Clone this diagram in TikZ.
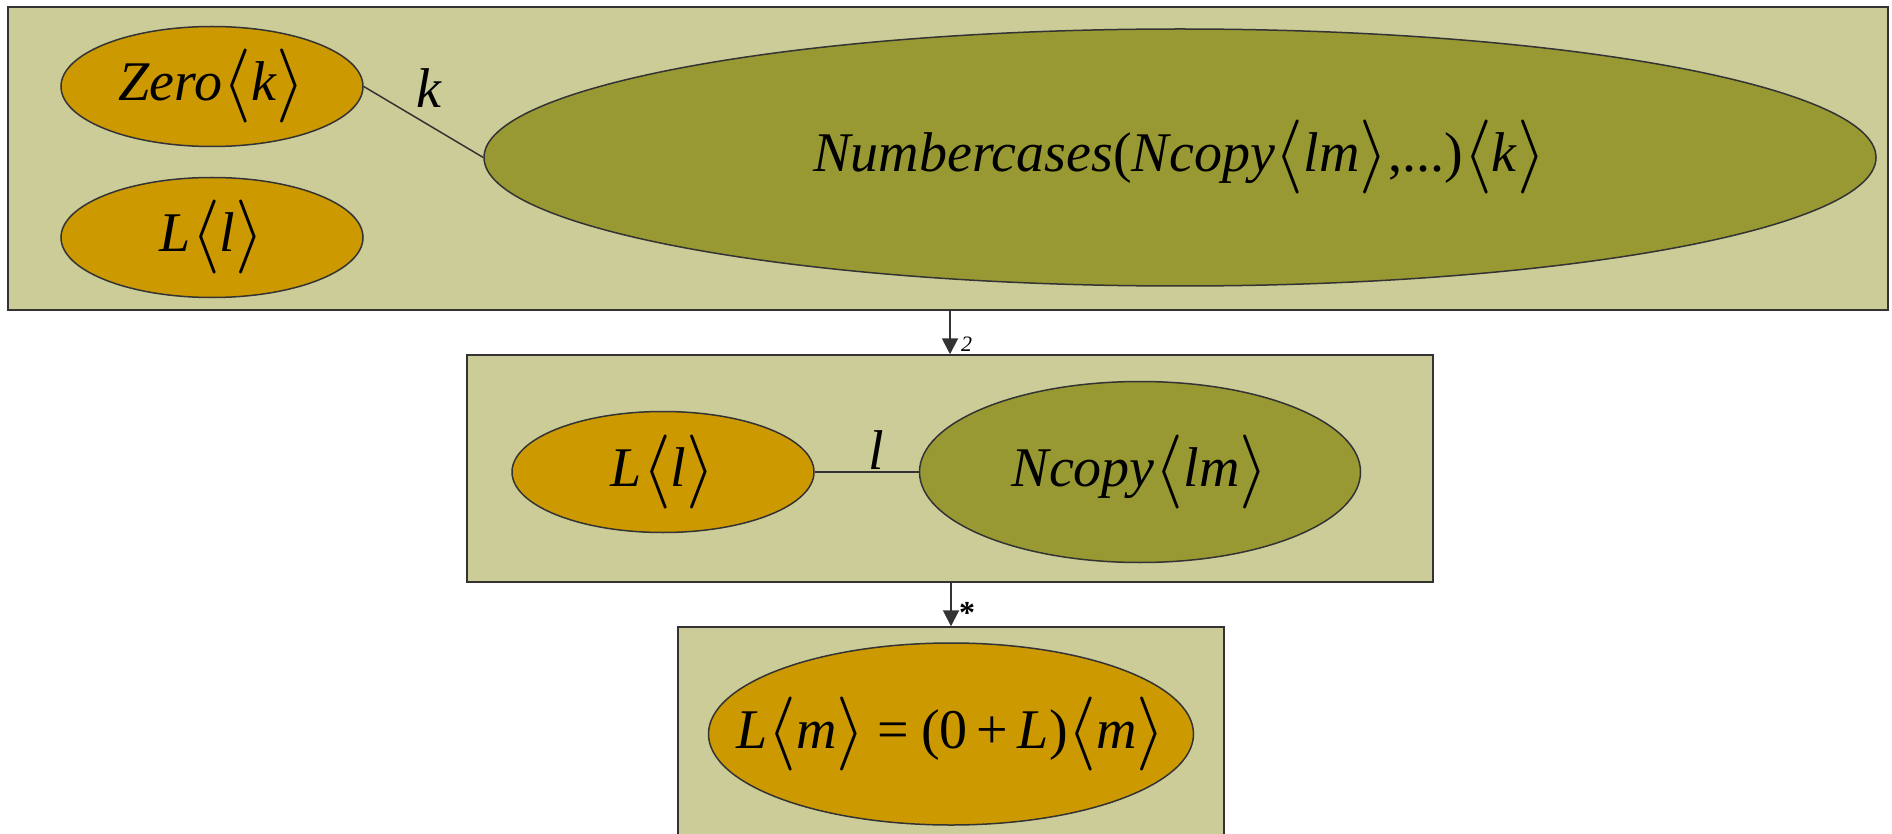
\RequirePackage{fix-cm}
\documentclass[tikz,border=0pt]{standalone}
\usepackage{fontspec}
\setmainfont{Liberation Serif}
\usetikzlibrary{arrows.meta,shapes.geometric}
\definecolor{boxfill}{RGB}{204,204,153}
\definecolor{orangefill}{RGB}{204,153,0}
\definecolor{olivefill}{RGB}{153,153,51}
\definecolor{edgecol}{RGB}{51,51,51}
\newcommand{\myla}{{\fontsize{74}{80}\selectfont\raisebox{-4pt}{$\langle$}}}
\newcommand{\myra}{{\fontsize{74}{80}\selectfont\raisebox{-4pt}{$\rangle$}}}
\tikzset{
  grp/.style={draw=edgecol, line width=1.5pt, fill=boxfill, rectangle, inner sep=0pt},
  ell/.style={draw=edgecol, line width=1.5pt, ellipse, inner sep=0pt},
  ellA/.style={ell, fill=orangefill},
  ellB/.style={ell, fill=olivefill},
  txt/.style={inner sep=0pt, font=\fontsize{56}{67}\selectfont},
  conn/.style={draw=edgecol, line width=1.5pt},
  arr/.style={draw=edgecol, line width=2pt, -{Triangle[width=16pt,length=16pt]}},
  elab/.style={inner sep=0pt, font=\fontsize{56}{67}\selectfont},
  slab/.style={inner sep=0pt, font=\fontsize{22}{26}\selectfont}
}
\begin{document}
\begin{tikzpicture}[x=1pt,y=-1pt]
\fill[white] (0,0) rectangle (1892,834);
\path[use as bounding box, clip] (0,0) rectangle (1892,834);
% boxes
\node[grp, minimum width=1880pt, minimum height=303pt] (b1) at (948,158.5) {};
\node[grp, minimum width=966pt, minimum height=227pt] (b2) at (950,468.5) {};
\node[grp, minimum width=546pt, minimum height=260pt] (b3) at (951,757) {};
% top box ellipses
\node[ellA, minimum width=302pt, minimum height=120pt] (e1) at (212,86.5) {};
\node[ellA, minimum width=302pt, minimum height=120pt] (e2) at (212,237.5) {};
\node[ellB, minimum width=1392pt, minimum height=257pt] (e3) at (1180,157.5) {};
\node[txt] (t1) at (e1) {\textit{Zero}\myla\textit{k}\myra};
\node[txt] (t2) at (e2) {\textit{L}\myla\textit{l}\myra};
\node[txt] (t3) at (e3) {\textit{Numbercases}(\textit{Ncopy}\myla\textit{lm}\myra,...)\myla\textit{k}\myra};
\draw[conn] (e1.east) -- node[elab, above=14pt, xshift=6pt] (lk) {\textit{k}} (e3.west);
% middle box ellipses
\node[ellA, minimum width=302pt, minimum height=121pt] (e4) at (663,472) {};
\node[ellB, minimum width=441pt, minimum height=181pt] (e5) at (1140,472) {};
\node[txt] (t4) at (e4) {\textit{L}\myla\textit{l}\myra};
\node[txt] (t5) at (e5) {\textit{Ncopy}\myla\textit{lm}\myra};
\draw[conn] (e4.east) -- node[elab, above=2pt, xshift=10pt] (ll) {\textit{l}} (e5.west);
% bottom ellipse
\node[ellA, minimum width=485pt, minimum height=182pt] (e6) at (951,734) {};
\node[txt] (t6) at (e6) {\textit{L}\myla\textit{m}\myra\hspace{12pt}=\hspace{12pt}(0\,+\,\textit{L})\myla\textit{m}\myra};
% arrows between boxes
\draw[arr] (b1.south -| b2.north) -- node[slab, pos=0.78, right=10pt] (l2) {\textit{2}} (b2.north);
\draw[arr] (b2.south -| b3.north) -- node[slab, pos=0.70, right=7pt, font=\bfseries\fontsize{32}{34}\selectfont] (ls) {*} (b3.north);
\end{tikzpicture}
\end{document}
